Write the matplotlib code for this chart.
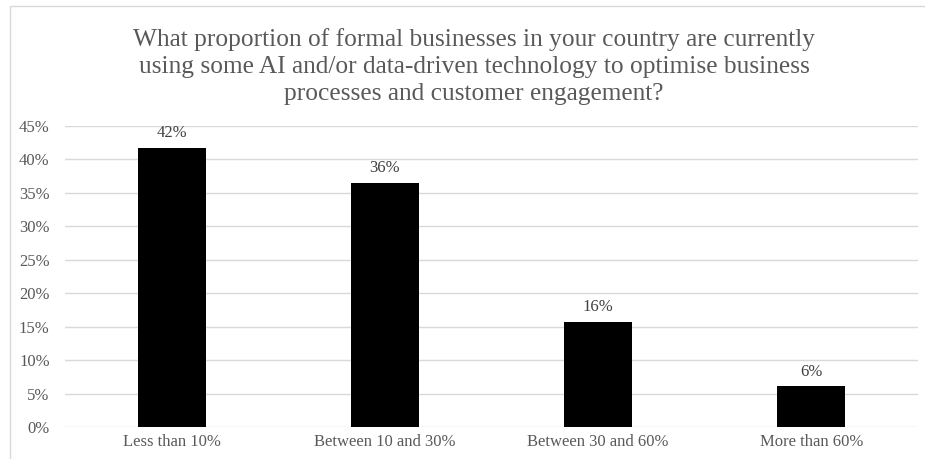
import matplotlib.pyplot as plt
from matplotlib.patches import Rectangle

categories = ['Less than 10%', 'Between 10 and 30%', 'Between 30 and 60%', 'More than 60%']
values = [41.7, 36.5, 15.7, 6.1]
labels = ['42%', '36%', '16%', '6%']
yticks = [0, 5, 10, 15, 20, 25, 30, 35, 40, 45]

plt.rcParams['font.family'] = ['Liberation Serif', 'DejaVu Serif']
grey = '#595959'

fig = plt.figure(figsize=(9.25, 4.59), dpi=100)
# chart frame
fig.patches.append(Rectangle((10 / 925, -0.1), 1.2, 1 - 6 / 459 + 0.1, transform=fig.transFigure,
                             fill=False, edgecolor='#d9d9d9', linewidth=1.0))
ax = fig.add_axes([65 / 925, 1 - 427 / 459, 853 / 925, (427 - 126) / 459])

x = range(len(categories))
ax.bar(x, values, width=0.32, color='black', zorder=3)
for i, v in enumerate(values):
    ax.text(i, v + 1.0, labels[i], ha='center', va='bottom', fontsize=12, color='#404040')

ax.set_xlim(-0.5, 3.5)
ax.set_ylim(0, 45)
ax.set_yticks(yticks)
ax.set_yticklabels([f'{t}%' for t in yticks])
ax.set_xticks(list(x))
ax.set_xticklabels(categories)
ax.tick_params(axis='both', length=0, colors=grey, labelsize=12)
ax.tick_params(axis='y', pad=11)
ax.tick_params(axis='x', pad=5)
ax.grid(axis='y', color='#d9d9d9', linewidth=1.0, zorder=0)
for s in ax.spines.values():
    s.set_visible(False)

fig.text(474 / 925, 1 - 66.5 / 459,
         'What proportion of formal businesses in your country are currently\n'
         'using some AI and/or data-driven technology to optimise business\n'
         'processes and customer engagement?',
         ha='center', va='center', fontsize=18.3, color=grey, linespacing=1.3)

fig.savefig('out.png', dpi=100)
